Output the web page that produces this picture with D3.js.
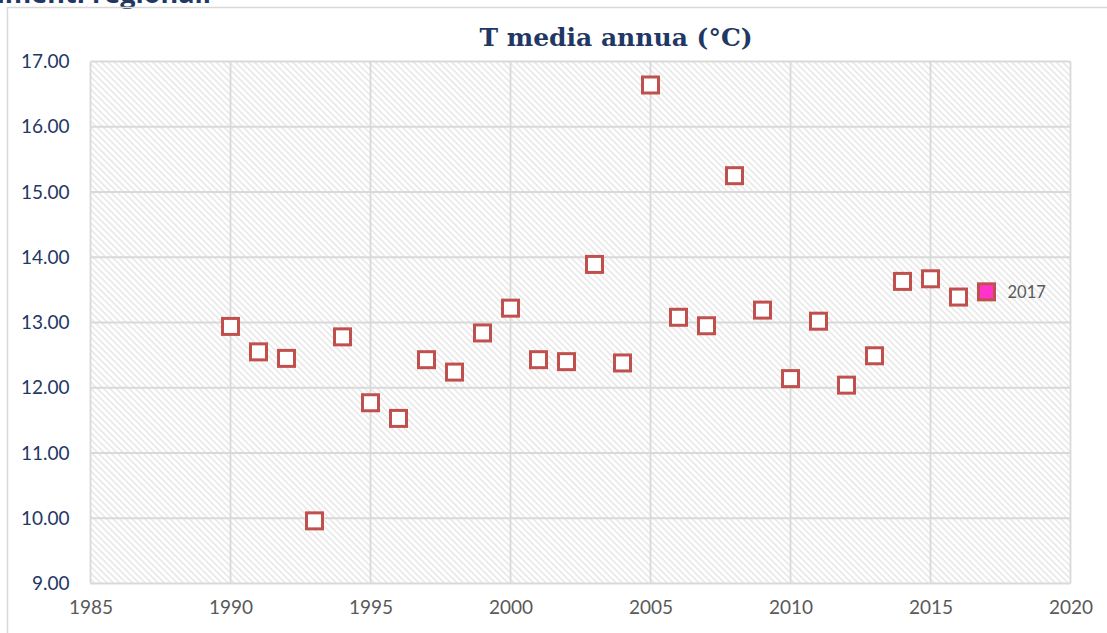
<!DOCTYPE html>
<html><head><meta charset="utf-8">
<script src="https://cdn.jsdelivr.net/npm/d3@7"></script>
<style>body{margin:0;background:#fff}svg{display:block}</style>
</head><body>
<svg id="c" width="1107" height="633"></svg>
<script>
const years = [1990,1991,1992,1993,1994,1995,1996,1997,1998,1999,2000,2001,2002,2003,2004,2005,2006,2007,2008,2009,2010,2011,2012,2013,2014,2015,2016];
const temps = [12.94,12.55,12.45,9.96,12.78,11.77,11.53,12.43,12.24,12.84,13.22,12.43,12.40,13.89,12.38,16.64,13.08,12.95,15.25,13.19,12.14,13.02,12.04,12.49,13.63,13.67,13.39];
const highlightYear = [2017];
const highlightTemp = [13.47];
const highlightLabel = ["2017"];
const xTicks = [1985,1990,1995,2000,2005,2010,2015,2020];
const yTicks = [9,10,11,12,13,14,15,16,17];
const title = "T media annua (°C)";
const headerText = "Andamenti regionali";

const svg = d3.select("#c");
const m = {l:90.5, r:1070.5, t:61.5, b:583.5};
const x = d3.scaleLinear().domain([1985,2020]).range([m.l,m.r]);
const y = d3.scaleLinear().domain([9,17]).range([m.b,m.t]);

// header (cut off at the top edge, as in the reference)
svg.append("text").attr("x",211).attr("y",3).attr("text-anchor","end")
  .attr("font-family","Open Sans").attr("font-weight","bold").attr("font-size",27)
  .attr("fill","#1f3864").text(headerText);

// outer border
svg.append("rect").attr("x",7.5).attr("y",7.5).attr("width",1200).attr("height",700)
  .attr("fill","none").attr("stroke","#d9d9d9").attr("stroke-width",1.5);

const defs = svg.append("defs");
const pat = defs.append("pattern").attr("id","hatch").attr("patternUnits","userSpaceOnUse")
  .attr("width",4.5).attr("height",4.5).attr("patternTransform","rotate(-45)");
pat.append("rect").attr("width",4.5).attr("height",4.5).attr("fill","#ffffff");
pat.append("line").attr("x1",1).attr("y1",0).attr("x2",1).attr("y2",4.5)
  .attr("stroke","#dadada").attr("stroke-width",1);

svg.append("rect").attr("x",m.l).attr("y",m.t).attr("width",m.r-m.l).attr("height",m.b-m.t)
  .attr("fill","url(#hatch)");

// gridlines
const g = svg.append("g");
g.selectAll(".vx").data(xTicks).join("line")
  .attr("x1",d=>x(d)).attr("x2",d=>x(d)).attr("y1",m.t).attr("y2",m.b)
  .attr("stroke","#d9d9d9").attr("stroke-width",1.8);
g.selectAll(".hy").data(yTicks).join("line")
  .attr("x1",m.l).attr("x2",m.r).attr("y1",d=>y(d)).attr("y2",d=>y(d))
  .attr("stroke","#d9d9d9").attr("stroke-width",1.8);

// axes
const xAxis = svg.append("g").attr("transform",`translate(0,${m.b})`)
  .call(d3.axisBottom(x).tickValues(xTicks).tickFormat(d3.format("d")).tickSize(0).tickPadding(17));
xAxis.select(".domain").remove();
xAxis.selectAll("text").attr("font-family","Lato, Open Sans").attr("font-size",19).attr("fill","#595959");

const yAxis = svg.append("g").attr("transform",`translate(${m.l},0)`)
  .call(d3.axisLeft(y).tickValues(yTicks).tickFormat(d3.format(".2f")).tickSize(0).tickPadding(21));
yAxis.select(".domain").remove();
yAxis.selectAll("text").attr("font-family","Lato, Open Sans").attr("font-size",19).attr("fill","#1f3864");

// title
svg.append("text").attr("x",616).attr("y",46).attr("text-anchor","middle")
  .attr("font-family","DejaVu Serif").attr("font-weight","bold").attr("font-size",25)
  .attr("fill","#1f3864").text(title);

const s = 16;
svg.append("g").selectAll("rect").data(years.map((yr,i)=>({yr,t:temps[i]}))).join("rect")
  .attr("x",d=>x(d.yr)-s/2).attr("y",d=>y(d.t)-s/2).attr("width",s).attr("height",s)
  .attr("fill","#ffffff").attr("stroke","#c0504d").attr("stroke-width",3);

const hl = highlightYear.map((yr,i)=>({yr,t:highlightTemp[i],lab:highlightLabel[i]}));
svg.append("g").selectAll("rect").data(hl).join("rect")
  .attr("x",d=>x(d.yr)-s/2).attr("y",d=>y(d.t)-s/2).attr("width",s).attr("height",s)
  .attr("fill","#ff33cc").attr("stroke","#c0504d").attr("stroke-width",3);
svg.append("g").selectAll("text").data(hl).join("text")
  .attr("x",d=>x(d.yr)+21).attr("y",d=>y(d.t)+6)
  .attr("font-family","Lato, Open Sans").attr("font-size",16.5).attr("fill","#595959")
  .text(d=>d.lab);
</script>
</body></html>
